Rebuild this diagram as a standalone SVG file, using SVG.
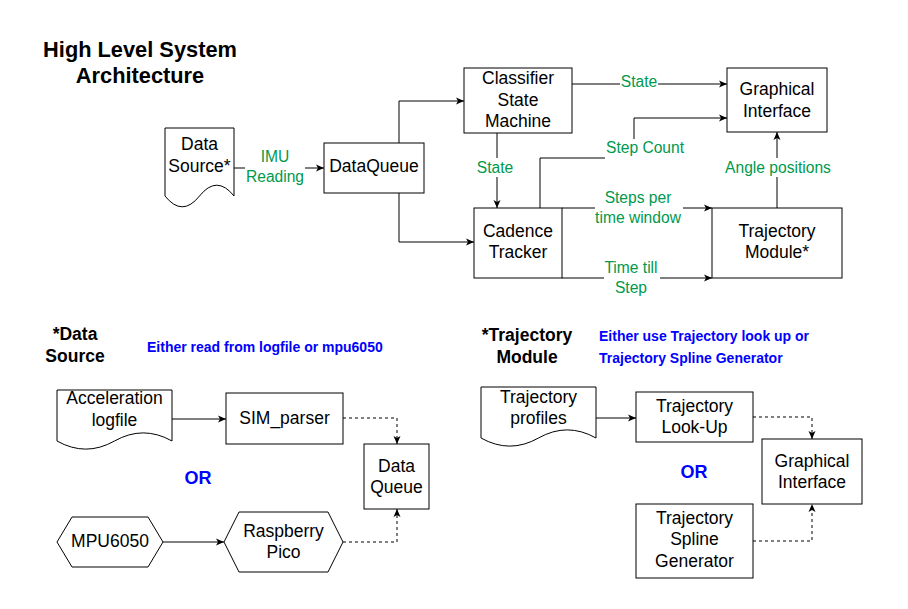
<svg xmlns="http://www.w3.org/2000/svg" width="908" height="609" viewBox="0 0 908 609">
<style>
  .box { fill: #fff; stroke: #000; stroke-width: 1; }
  .t { font-family: "Liberation Sans", Arial, sans-serif; font-size: 17.5px; fill: #000; text-anchor: middle; }
  .g { font-family: "Liberation Sans", Arial, sans-serif; font-size: 15.6px; fill: #00994D; text-anchor: middle; }
  .h { font-family: "Liberation Sans", Arial, sans-serif; font-size: 17.5px; font-weight: bold; fill: #000; text-anchor: middle; }
  .title { font-family: "Liberation Sans", Arial, sans-serif; font-size: 21.8px; font-weight: bold; fill: #000; text-anchor: middle; }
  .b { font-family: "Liberation Sans", Arial, sans-serif; font-size: 14px; font-weight: bold; fill: #0000FF; }
  .or { font-family: "Liberation Sans", Arial, sans-serif; font-size: 18px; font-weight: bold; fill: #0000FF; text-anchor: middle; }
  .e { fill: none; stroke: #000; stroke-width: 1; }
  .d { fill: none; stroke: #000; stroke-width: 1; stroke-dasharray: 3 3; }
  .lb { fill: #fff; stroke: none; }
</style>
<defs>
  <marker id="arr" markerWidth="8" markerHeight="8" refX="8" refY="4" orient="auto" markerUnits="userSpaceOnUse">
    <path d="M0,0.5 L8,4 L0,7.5 L2,4 Z" fill="#000" stroke="none"/>
  </marker>
</defs>
<rect x="0" y="0" width="908" height="609" fill="#fff"/>

<g id="title">
  <text class="title" x="140" y="57">High Level System</text>
  <text class="title" x="140" y="83">Architecture</text>
</g>

<g id="connectors">
  <path class="e" d="M234,168 H324" marker-end="url(#arr)"/>
  <path class="e" d="M399,143 V101 H464" marker-end="url(#arr)"/>
  <path class="e" d="M399,193 V242 H474" marker-end="url(#arr)"/>
  <path class="e" d="M572,84 H727" marker-end="url(#arr)"/>
  <path class="e" d="M497,132 V208" marker-end="url(#arr)"/>
  <path class="e" d="M540,208 V158 H634 V118 H727" marker-end="url(#arr)"/>
  <path class="e" d="M562,208 H712" marker-end="url(#arr)"/>
  <path class="e" d="M562,278 H712" marker-end="url(#arr)"/>
  <path class="e" d="M777,208 V132" marker-end="url(#arr)"/>
  <path class="e" d="M172,419 H226" marker-end="url(#arr)"/>
  <path class="d" d="M343,418 H397 V444" marker-end="url(#arr)"/>
  <path class="e" d="M163,542 H224" marker-end="url(#arr)"/>
  <path class="d" d="M343,542 H397 V509" marker-end="url(#arr)"/>
  <path class="e" d="M596,418 H636" marker-end="url(#arr)"/>
  <path class="d" d="M753,417 H812 V439" marker-end="url(#arr)"/>
  <path class="d" d="M753,541 H812 V504" marker-end="url(#arr)"/>
</g>

<g id="edge-labels">
  <rect class="lb" x="245" y="148" width="60" height="39"/>
  <text class="g" x="275" y="162">IMU</text>
  <text class="g" x="275" y="182">Reading</text>
  <rect class="lb" x="620" y="75" width="38" height="18"/>
  <text class="g" x="639" y="87">State</text>
  <rect class="lb" x="476" y="158" width="38" height="19"/>
  <text class="g" x="495" y="173">State</text>
  <rect class="lb" x="605" y="139" width="82" height="20"/>
  <text class="g" x="645" y="153">Step Count</text>
  <rect class="lb" x="724" y="158" width="108" height="19"/>
  <text class="g" x="778" y="173">Angle positions</text>
  <rect class="lb" x="595" y="188" width="88" height="39"/>
  <text class="g" x="638" y="203">Steps per</text>
  <text class="g" x="638" y="223">time window</text>
  <rect class="lb" x="604" y="258" width="56" height="39"/>
  <text class="g" x="631" y="273">Time till</text>
  <text class="g" x="631" y="293">Step</text>
</g>

<g id="data-source">
  <path class="box" d="M165,128 H234 V196 Q216.75,174.4 199.5,196 Q182.25,217.6 165,196 Z"/>
  <text class="t" x="199.5" y="150">Data</text>
  <text class="t" x="199.5" y="172">Source*</text>
</g>
<g id="dataqueue">
  <rect class="box" x="324" y="143" width="100" height="50"/>
  <text class="t" x="374" y="172">DataQueue</text>
</g>
<g id="classifier">
  <rect class="box" x="464" y="68" width="108" height="65"/>
  <text class="t" x="518" y="84">Classifier</text>
  <text class="t" x="518" y="106">State</text>
  <text class="t" x="518" y="127">Machine</text>
</g>
<g id="graphical-interface">
  <rect class="box" x="727" y="68" width="100" height="64"/>
  <text class="t" x="777" y="95">Graphical</text>
  <text class="t" x="777" y="117">Interface</text>
</g>
<g id="cadence-tracker">
  <rect class="box" x="474" y="208" width="88" height="70"/>
  <text class="t" x="518" y="237">Cadence</text>
  <text class="t" x="518" y="258">Tracker</text>
</g>
<g id="trajectory-module">
  <rect class="box" x="712" y="208" width="130" height="70"/>
  <text class="t" x="777" y="237">Trajectory</text>
  <text class="t" x="777" y="258">Module*</text>
</g>

<g id="data-source-header">
  <text class="h" x="75" y="340">*Data</text>
  <text class="h" x="75" y="362">Source</text>
  <text class="b" x="147" y="352">Either read from logfile or mpu6050</text>
</g>
<g id="acceleration-logfile">
  <path class="box" d="M57,390 H172 V441 Q143.25,424.8 114.5,441 Q85.75,457.2 57,441 Z"/>
  <text class="t" x="114.5" y="404">Acceleration</text>
  <text class="t" x="114.5" y="426">logfile</text>
</g>
<g id="sim-parser">
  <rect class="box" x="226" y="393" width="117" height="51"/>
  <text class="t" x="284.5" y="424">SIM_parser</text>
</g>
<g id="data-queue-2">
  <rect class="box" x="364" y="444" width="65" height="65"/>
  <text class="t" x="396.5" y="472">Data</text>
  <text class="t" x="396.5" y="493">Queue</text>
</g>
<g id="or-1">
  <text class="or" x="198" y="484">OR</text>
</g>
<g id="mpu6050">
  <path class="box" d="M57,542 L72,517 H148 L163,542 L148,567 H72 Z"/>
  <text class="t" x="110" y="547">MPU6050</text>
</g>
<g id="raspberry-pico">
  <path class="box" d="M224,542 L239,512 H328 L343,542 L328,572 H239 Z"/>
  <text class="t" x="283.5" y="537">Raspberry</text>
  <text class="t" x="283.5" y="558">Pico</text>
</g>

<g id="trajectory-header">
  <text class="h" x="527" y="341">*Trajectory</text>
  <text class="h" x="527" y="363">Module</text>
  <text class="b" x="599" y="341">Either use Trajectory look up or</text>
  <text class="b" x="599" y="363">Trajectory Spline Generator</text>
</g>
<g id="trajectory-profiles">
  <path class="box" d="M481,387 H596 V438 Q567.25,421.8 538.5,438 Q509.75,454.2 481,438 Z"/>
  <text class="t" x="538.5" y="403">Trajectory</text>
  <text class="t" x="538.5" y="424">profiles</text>
</g>
<g id="trajectory-lookup">
  <rect class="box" x="636" y="392" width="117" height="50"/>
  <text class="t" x="694.5" y="412">Trajectory</text>
  <text class="t" x="694.5" y="433">Look-Up</text>
</g>
<g id="graphical-interface-2">
  <rect class="box" x="762" y="439" width="100" height="65"/>
  <text class="t" x="812" y="467">Graphical</text>
  <text class="t" x="812" y="488">Interface</text>
</g>
<g id="or-2">
  <text class="or" x="694" y="478">OR</text>
</g>
<g id="trajectory-spline">
  <rect class="box" x="636" y="504" width="117" height="74"/>
  <text class="t" x="694.5" y="524">Trajectory</text>
  <text class="t" x="694.5" y="545">Spline</text>
  <text class="t" x="694.5" y="567">Generator</text>
</g>
</svg>
